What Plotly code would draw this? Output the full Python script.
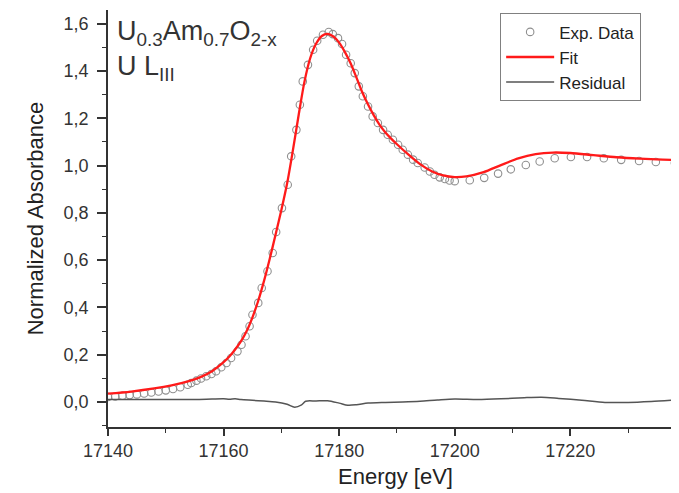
import plotly.graph_objects as go

# Experimental data (energy in eV, normalized absorbance)
exp_energy = [17140.0, 17141.25, 17142.5, 17143.75, 17145.0, 17146.25, 17147.5, 17148.75, 17150.0,
              17151.25, 17152.5, 17153.8, 17154.4, 17155.3, 17156.1, 17157.0, 17157.9, 17158.7,
              17159.6, 17160.5, 17161.3, 17162.4, 17163.1, 17163.8, 17164.5, 17165.0, 17166.0,
              17166.6, 17167.6, 17168.5, 17169.1, 17170.1, 17171.1, 17171.7, 17172.6, 17173.2,
              17173.7, 17174.6, 17175.5, 17176.2, 17177.2, 17178.2, 17178.9, 17179.8, 17180.5,
              17181.2, 17182.0, 17182.7, 17183.4, 17184.1, 17185.0, 17185.8, 17186.7, 17187.6,
              17188.4, 17189.3, 17190.2, 17191.0, 17191.9, 17192.8, 17193.6, 17194.8, 17195.7,
              17196.5, 17197.4, 17198.3, 17199.1, 17200.0, 17202.6, 17205.1, 17207.5, 17209.7,
              17212.3, 17214.7, 17217.3, 17220.1, 17222.9, 17225.8, 17228.8, 17231.9, 17234.8,
              17238.1]
exp_absorb = [0.021, 0.023, 0.026, 0.029, 0.032, 0.036, 0.040, 0.044, 0.049,
              0.055, 0.062, 0.073, 0.080, 0.090, 0.099, 0.109, 0.118, 0.130,
              0.147, 0.165, 0.186, 0.214, 0.242, 0.278, 0.320, 0.369, 0.419,
              0.482, 0.553, 0.630, 0.719, 0.820, 0.919, 1.039, 1.151, 1.257,
              1.356, 1.426, 1.490, 1.528, 1.553, 1.565, 1.556, 1.539, 1.514,
              1.469, 1.433, 1.391, 1.335, 1.293, 1.250, 1.208, 1.180, 1.151,
              1.130, 1.109, 1.088, 1.067, 1.046, 1.025, 1.011, 0.992, 0.975,
              0.961, 0.950, 0.943, 0.937, 0.934, 0.938, 0.948, 0.966, 0.984,
              1.002, 1.017, 1.031, 1.036, 1.036, 1.031, 1.024, 1.019, 1.015,
              1.011]

# Fit curve
fit_energy = [17140, 17144, 17148, 17151, 17154, 17156, 17158, 17160, 17161, 17162, 17163,
              17164, 17165, 17166, 17167, 17168, 17169, 17170, 17171, 17172, 17173, 17174,
              17175, 17176, 17177, 17178, 17179, 17180, 17181, 17182, 17183, 17184, 17185,
              17186, 17187, 17188, 17189, 17190, 17192, 17194, 17196, 17198, 17200, 17202,
              17205, 17208, 17211, 17214, 17217, 17220, 17224, 17228, 17232, 17236, 17239.5]
fit_absorb = [0.035, 0.044, 0.057, 0.070, 0.088, 0.105, 0.130, 0.168, 0.192, 0.222, 0.256,
              0.300, 0.358, 0.428, 0.512, 0.607, 0.708, 0.812, 0.925, 1.065, 1.215, 1.355,
              1.455, 1.515, 1.548, 1.557, 1.546, 1.520, 1.480, 1.432, 1.372, 1.310, 1.258,
              1.212, 1.172, 1.140, 1.114, 1.090, 1.046, 1.006, 0.976, 0.958, 0.951, 0.954,
              0.972, 1.002, 1.030, 1.048, 1.055, 1.053, 1.044, 1.035, 1.029, 1.025, 1.023]

# Residual
res_energy = [17140, 17145, 17150, 17155, 17158, 17160, 17161, 17162, 17163, 17165, 17167,
              17169, 17171, 17172.3, 17173.5, 17174.2, 17176, 17178, 17180, 17181.5, 17183,
              17185, 17188, 17191, 17194, 17197, 17200, 17204, 17208, 17212, 17215, 17218,
              17222, 17226, 17230, 17234, 17239.5]
res_absorb = [0.010, 0.010, 0.010, 0.010, 0.012, 0.013, 0.011, 0.013, 0.010, 0.007, 0.004,
              0.000, -0.010, -0.022, -0.012, 0.003, 0.004, 0.005, -0.005, -0.014, -0.012,
              -0.005, -0.002, 0.000, 0.003, 0.008, 0.012, 0.010, 0.013, 0.018, 0.020, 0.015,
              0.007, -0.002, -0.002, 0.002, 0.010]

x_ticks = [17140, 17160, 17180, 17200, 17220]
y_ticks = [0.0, 0.2, 0.4, 0.6, 0.8, 1.0, 1.2, 1.4, 1.6]

FONT = "Liberation Sans, Arial, sans-serif"
AX = "#333333"

fig = go.Figure()
fig.add_trace(go.Scatter(
    x=exp_energy, y=exp_absorb, mode="markers", name="Exp. Data",
    marker=dict(symbol="circle-open", size=7.5, color="#8f8f8f", line=dict(width=1.1, color="#8f8f8f")),
))
fig.add_trace(go.Scatter(
    x=fit_energy, y=fit_absorb, mode="lines", name="Fit",
    line=dict(color="#ff1a1a", width=2.3, shape="spline", smoothing=0.8),
))
fig.add_trace(go.Scatter(
    x=res_energy, y=res_absorb, mode="lines", name="Residual",
    line=dict(color="#555555", width=1.5, shape="spline", smoothing=0.8),
))

fig.update_layout(
    width=679, height=493,
    margin=dict(l=100, r=4, t=2, b=74),
    paper_bgcolor="white", plot_bgcolor="white",
    separators=",.",
    font=dict(family=FONT, size=16, color=AX),
    showlegend=True,
    legend=dict(
        x=0.682, y=0.992, xanchor="left", yanchor="top",
        bgcolor="white", bordercolor="#808080", borderwidth=1,
        font=dict(family=FONT, size=17, color="#222222"),
        tracegroupgap=0, itemwidth=48,
    ),
    xaxis=dict(
        range=[17140, 17239.5], tickvals=x_ticks, tickformat="d",
        showgrid=False, zeroline=False, showline=True, linecolor=AX, linewidth=1.5,
        ticks="outside", ticklen=7, tickwidth=1.5, tickcolor=AX,
        tickfont=dict(family=FONT, size=18, color=AX),
        minor=dict(dtick=10, tick0=17140, ticks="outside", ticklen=4, tickwidth=1.2, tickcolor=AX),
        title=dict(text="Energy [eV]", font=dict(family=FONT, size=22, color="#222222"), standoff=8),
    ),
    yaxis=dict(
        range=[-0.106, 1.658], tickvals=y_ticks, tickformat=".1f",
        showgrid=False, zeroline=False, showline=True, linecolor=AX, linewidth=1.5,
        ticks="outside", ticklen=9, tickwidth=1.5, tickcolor=AX,
        tickfont=dict(family=FONT, size=18, color=AX),
        ticklabelstandoff=5,
        minor=dict(dtick=0.1, tick0=0, ticks="outside", ticklen=4, tickwidth=1.2, tickcolor=AX),
        title=dict(text="Normalized Absorbance", font=dict(family=FONT, size=22, color="#222222"), standoff=14),
    ),
)

fig.add_annotation(
    xref="paper", yref="paper", x=0.013, y=0.99, xanchor="left", yanchor="top", align="left",
    text="U<sub>0.3</sub>Am<sub>0.7</sub>O<sub>2-x</sub><br>U L<sub>III</sub>", showarrow=False,
    font=dict(family=FONT, size=27, color="#333333"),
)

fig.write_html("out.html")
